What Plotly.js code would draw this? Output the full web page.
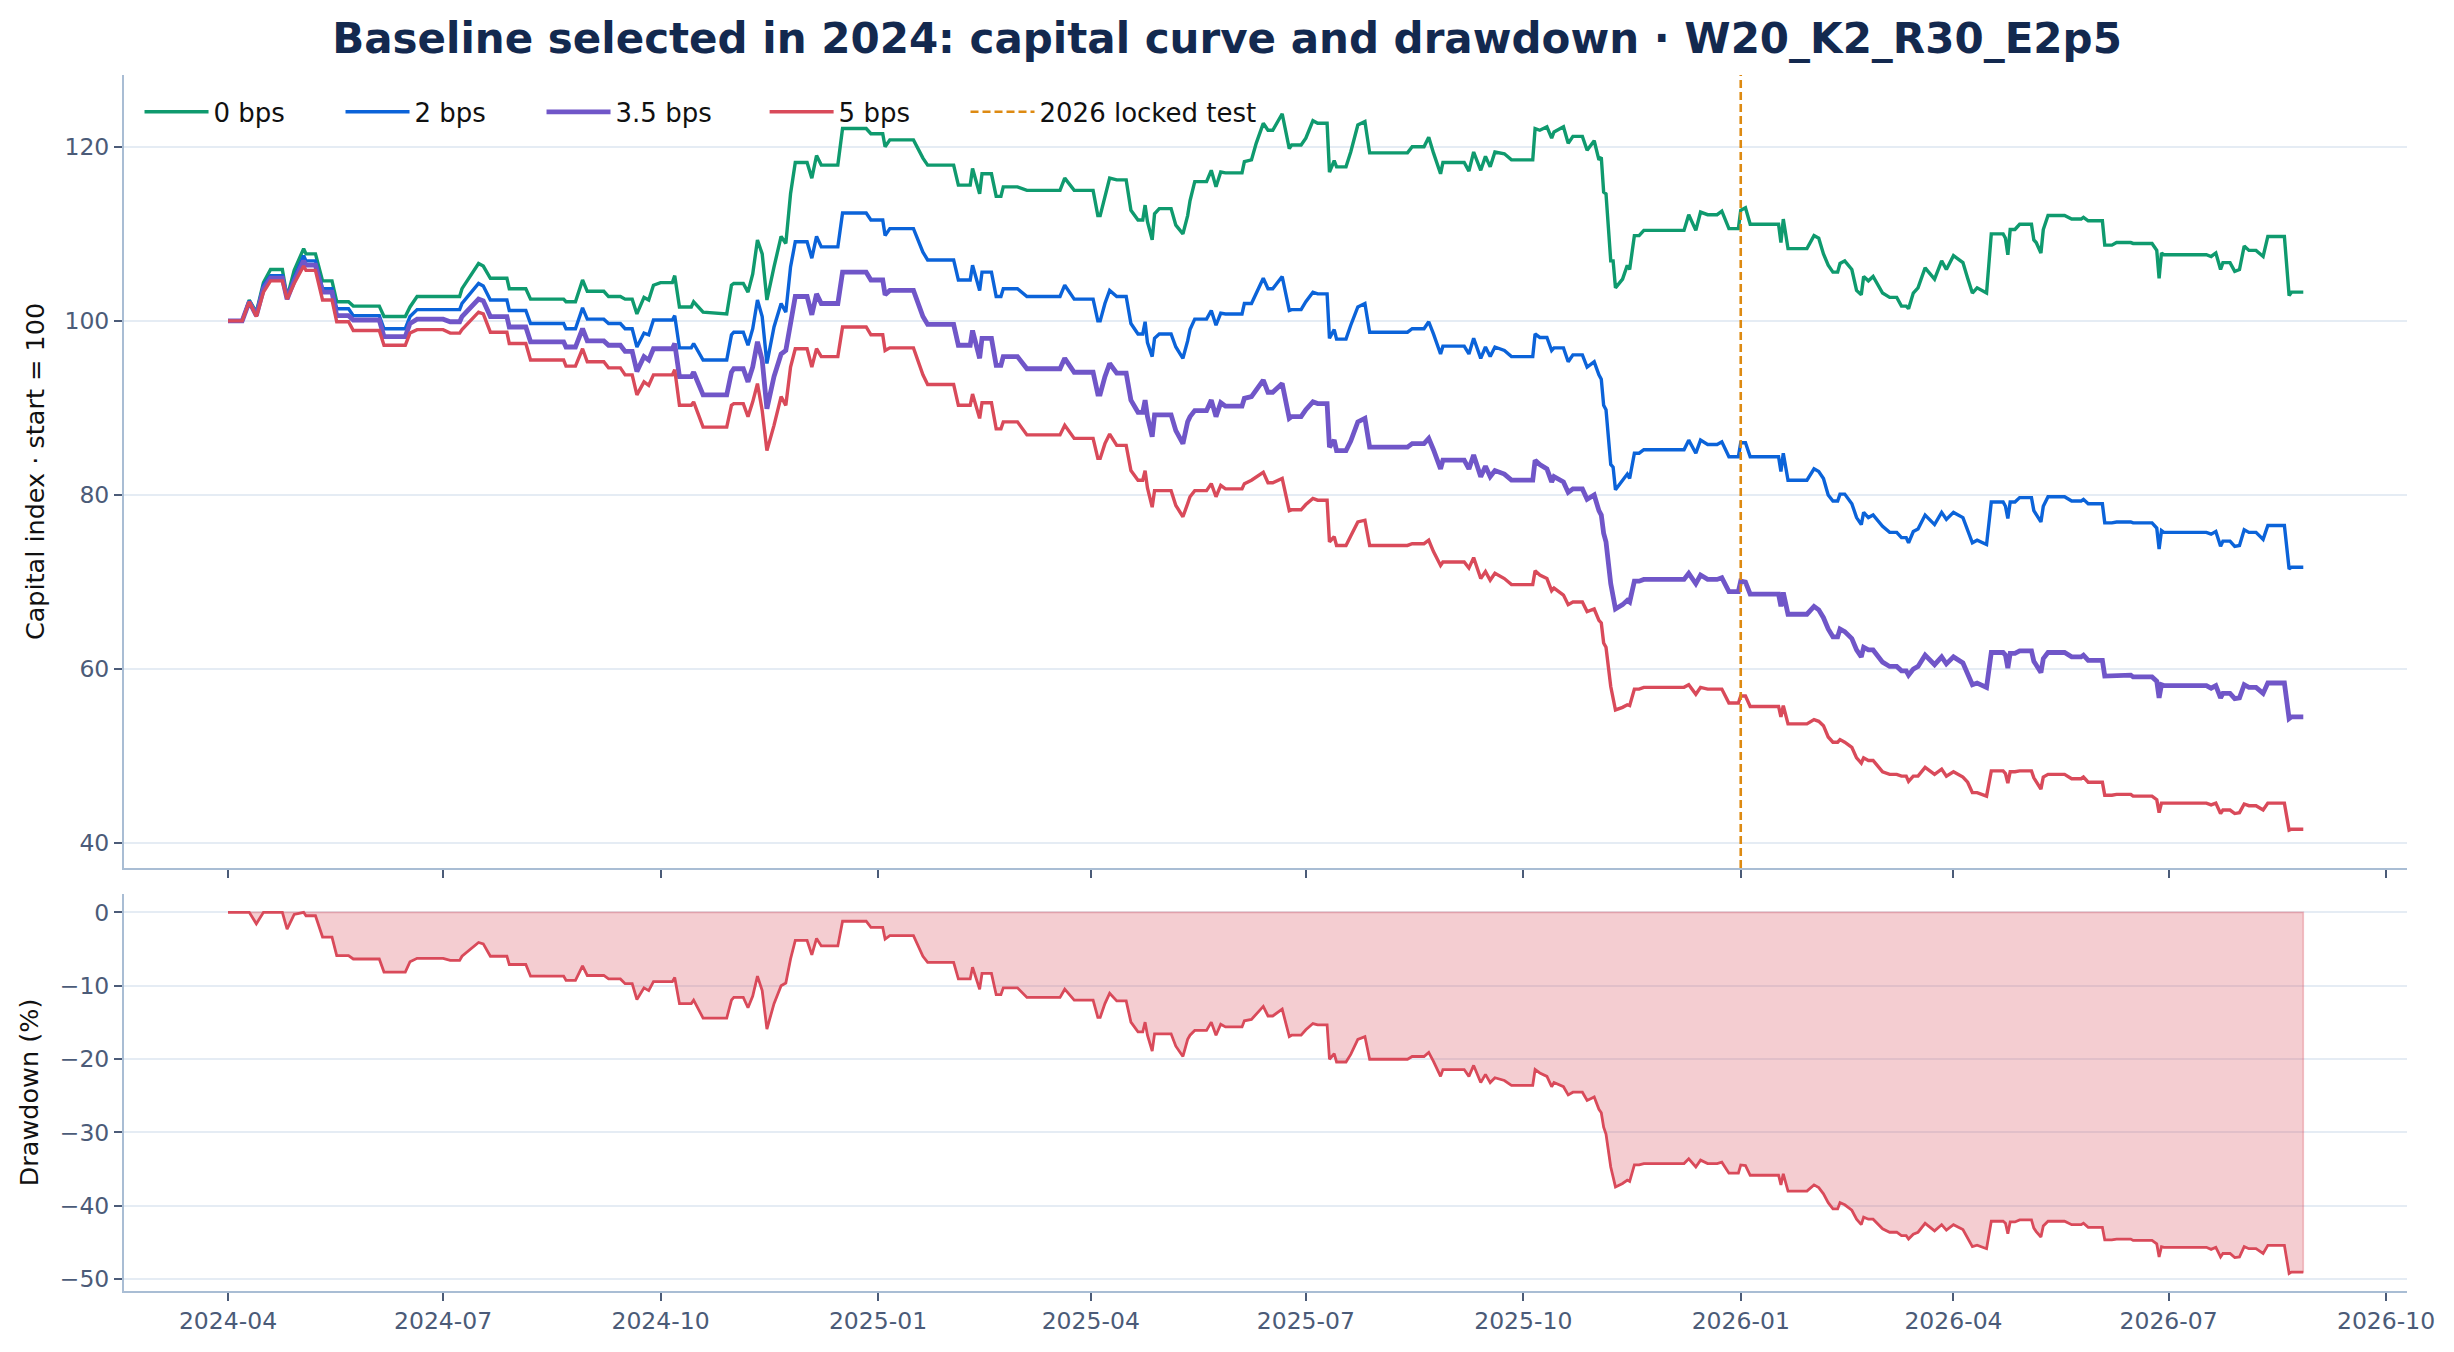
<!DOCTYPE html>
<html>
<head>
<meta charset="utf-8">
<script src="https://cdn.plot.ly/plotly-3.0.1.min.js"></script>
<style>
  html, body { margin: 0; padding: 0; background: #ffffff; }
  #chart { width: 2454px; height: 1352px; }
</style>
</head>
<body>
<div id="chart"></div>
<script>
// capital index per cost level (start = 100)
var dates = [
  "2024-04-01","2024-04-07","2024-04-10","2024-04-13","2024-04-16","2024-04-19","2024-04-24","2024-04-26","2024-04-29","2024-05-03",
  "2024-05-04","2024-05-08","2024-05-11","2024-05-15","2024-05-17","2024-05-22","2024-05-24","2024-06-04","2024-06-06","2024-06-15",
  "2024-06-17","2024-06-20","2024-07-01","2024-07-04","2024-07-08","2024-07-09","2024-07-16","2024-07-18","2024-07-21","2024-07-28",
  "2024-07-29","2024-08-05","2024-08-07","2024-08-21","2024-08-22","2024-08-26","2024-08-29","2024-08-31","2024-09-07","2024-09-09",
  "2024-09-14","2024-09-16","2024-09-19","2024-09-21","2024-09-24","2024-09-26","2024-09-28","2024-10-01","2024-10-06","2024-10-07",
  "2024-10-09","2024-10-14","2024-10-15","2024-10-19","2024-10-29","2024-10-31","2024-11-01","2024-11-05","2024-11-07","2024-11-09",
  "2024-11-11","2024-11-13","2024-11-15","2024-11-18","2024-11-21","2024-11-23","2024-11-25","2024-11-27","2024-12-02","2024-12-04",
  "2024-12-06","2024-12-08","2024-12-15","2024-12-17","2024-12-27","2024-12-29","2025-01-03","2025-01-04","2025-01-06","2025-01-16",
  "2025-01-20","2025-01-22","2025-02-02","2025-02-04","2025-02-09","2025-02-10","2025-02-13","2025-02-14","2025-02-18","2025-02-20",
  "2025-02-22","2025-02-23","2025-03-01","2025-03-05","2025-03-19","2025-03-21","2025-03-25","2025-04-02","2025-04-04","2025-04-05",
  "2025-04-07","2025-04-09","2025-04-12","2025-04-16","2025-04-18","2025-04-21","2025-04-23","2025-04-24","2025-04-25","2025-04-27",
  "2025-04-28","2025-04-30","2025-05-05","2025-05-07","2025-05-10","2025-05-12","2025-05-13","2025-05-15","2025-05-20","2025-05-22",
  "2025-05-24","2025-05-26","2025-05-28","2025-06-04","2025-06-05","2025-06-08","2025-06-10","2025-06-13","2025-06-15","2025-06-17",
  "2025-06-21","2025-06-24","2025-06-25","2025-06-29","2025-07-01","2025-07-04","2025-07-06","2025-07-10","2025-07-11","2025-07-13",
  "2025-07-14","2025-07-18","2025-07-20","2025-07-23","2025-07-26","2025-07-28","2025-08-13","2025-08-15","2025-08-20","2025-08-22",
  "2025-08-24","2025-08-27","2025-08-28","2025-09-06","2025-09-08","2025-09-10","2025-09-13","2025-09-15","2025-09-17","2025-09-19",
  "2025-09-23","2025-09-26","2025-10-05","2025-10-06","2025-10-08","2025-10-11","2025-10-13","2025-10-14","2025-10-18","2025-10-20",
  "2025-10-22","2025-10-26","2025-10-28","2025-10-31","2025-11-02","2025-11-03","2025-11-04","2025-11-05","2025-11-07","2025-11-08",
  "2025-11-09","2025-11-12","2025-11-14","2025-11-15","2025-11-17","2025-11-19","2025-11-21","2025-12-08","2025-12-10","2025-12-13",
  "2025-12-15","2025-12-18","2025-12-22","2025-12-24","2025-12-27","2025-12-31","2026-01-01","2026-01-03","2026-01-05","2026-01-17",
  "2026-01-18","2026-01-19","2026-01-21","2026-01-29","2026-02-01","2026-02-03","2026-02-05","2026-02-07","2026-02-09","2026-02-11",
  "2026-02-12","2026-02-14","2026-02-17","2026-02-19","2026-02-21","2026-02-22","2026-02-24","2026-02-26","2026-03-02","2026-03-05",
  "2026-03-08","2026-03-10","2026-03-12","2026-03-13","2026-03-15","2026-03-17","2026-03-20","2026-03-24","2026-03-27","2026-03-29",
  "2026-04-01","2026-04-05","2026-04-07","2026-04-09","2026-04-11","2026-04-15","2026-04-17","2026-04-22","2026-04-23","2026-04-24",
  "2026-04-25","2026-04-27","2026-04-29","2026-05-04","2026-05-05","2026-05-06","2026-05-08","2026-05-09","2026-05-11","2026-05-18",
  "2026-05-21","2026-05-25","2026-05-26","2026-05-28","2026-06-03","2026-06-04","2026-06-07","2026-06-09","2026-06-15","2026-06-16",
  "2026-06-24","2026-06-26","2026-06-27","2026-06-28","2026-06-29","2026-07-17","2026-07-19","2026-07-21","2026-07-23","2026-07-24",
  "2026-07-27","2026-07-29","2026-07-31","2026-08-02","2026-08-04","2026-08-07","2026-08-10","2026-08-12","2026-08-19","2026-08-21",
  "2026-08-22","2026-08-27"
];

var bps0 = [
  100,100,102.4,101.0,104.4,105.9,105.9,102.7,105.8,108.3,
  107.7,107.7,104.6,104.6,102.2,102.2,101.7,101.7,100.5,100.5,
  101.6,102.8,102.8,102.8,102.8,103.7,106.6,106.3,104.9,104.9,
  103.7,103.7,102.5,102.5,102.2,102.2,104.7,103.4,103.4,102.8,
  102.8,102.5,102.5,100.8,102.7,102.4,104.1,104.4,104.4,105.2,
  101.6,101.6,102.2,101.0,100.8,104.1,104.3,104.3,103.3,105.4,
  109.3,107.7,102.4,106.2,109.7,108.9,114.6,118.2,118.2,116.4,
  119.0,117.9,117.9,122.1,122.1,121.5,121.5,120.0,120.8,120.8,
  118.7,117.9,117.9,115.6,115.6,117.5,114.6,116.9,116.9,114.3,
  114.3,115.4,115.4,115.0,115.0,116.4,115.0,115.0,112.1,112.1,
  114.3,116.4,116.2,116.2,112.7,111.6,111.6,113.3,111.4,109.3,
  112.3,112.9,112.9,111.0,110.0,112.1,113.8,116.0,116.0,117.3,
  115.4,117.1,117.0,117.0,118.3,118.5,120.4,122.7,121.9,121.9,
  123.8,119.8,120.2,120.2,121.0,123.0,122.7,122.7,117.1,118.4,
  117.7,117.7,119.4,122.5,122.9,119.3,119.3,120.0,120.0,121.1,
  119.3,116.9,118.2,118.2,117.2,119.4,117.3,118.9,117.7,119.4,
  119.2,118.5,118.5,122.1,121.9,122.3,121.0,121.7,122.3,120.4,
  121.2,121.2,119.6,120.7,118.5,118.8,114.8,114.6,106.9,106.9,
  103.8,104.8,106.4,105.9,109.8,109.8,110.4,110.4,112.2,110.4,
  112.5,112.2,112.2,112.6,110.6,110.6,112.7,113.0,111.1,111.1,
  109.0,111.7,108.3,108.3,109.8,109.5,107.7,106.4,105.6,105.6,
  106.6,106.9,105.9,103.5,103.0,105.1,104.6,105.1,103.2,102.7,
  102.7,101.7,101.7,101.4,103.2,103.8,106.1,104.8,106.9,105.9,
  107.5,106.7,104.9,103.2,103.8,103.2,110.0,110.0,109.5,107.6,
  110.5,110.5,111.1,111.1,109.3,109.0,107.8,110.5,112.1,112.1,
  111.7,111.7,111.9,111.5,111.5,108.7,108.7,109.0,109.0,108.9,
  108.9,108.1,104.9,107.8,107.6,107.6,107.4,107.8,105.9,106.7,
  106.7,105.7,105.9,108.6,108.1,108.1,107.4,109.7,109.7,102.9,
  103.3,103.3
];

var bps2 = [
  100,100,102.3,100.8,104.1,105.2,105.2,102.6,105.0,107.5,
  106.9,106.9,103.7,103.7,101.4,101.4,100.6,100.6,99.1,99.1,
  100.5,101.3,101.3,101.3,101.3,102.0,104.3,104.0,102.4,102.4,
  101.2,101.2,99.7,99.7,99.1,99.1,101.5,100.2,100.2,99.7,
  99.7,99.1,99.1,97.0,98.6,98.4,100.1,100.1,100.1,100.6,
  96.9,96.9,97.4,95.5,95.5,98.4,98.7,98.7,97.2,99.1,
  102.4,100.5,95.1,99.3,102.0,101.0,106.2,109.1,109.1,107.2,
  109.7,108.5,108.5,112.4,112.4,111.6,111.6,109.8,110.6,110.6,
  107.9,107.0,107.0,104.7,104.7,106.4,103.5,105.6,105.6,102.8,
  102.8,103.7,103.7,102.8,102.8,104.1,102.5,102.5,100.0,100.0,
  102.0,103.5,102.8,102.8,99.7,98.5,98.5,99.9,97.5,95.9,
  98.0,98.5,98.5,97.0,95.7,97.7,99.0,100.2,100.2,101.2,
  99.5,100.9,100.8,100.8,102.0,102.0,103.1,104.9,103.7,103.7,
  105.1,101.2,101.3,101.3,102.2,103.3,103.1,103.1,98.0,99.0,
  97.9,97.9,99.5,101.6,102.0,98.7,98.7,99.1,99.1,99.9,
  98.5,96.2,97.1,97.1,96.2,98.0,95.7,97.0,95.9,97.0,
  96.6,95.9,95.9,98.5,98.1,98.1,96.6,96.9,96.9,95.3,
  96.1,96.1,94.7,95.3,93.8,93.3,90.3,89.8,83.5,83.2,
  80.6,81.7,82.4,81.9,84.8,84.8,85.2,85.2,86.3,84.8,
  86.3,85.8,85.8,86.1,84.4,84.4,86.0,86.0,84.4,84.4,
  82.7,84.8,81.7,81.7,83.0,82.7,81.9,80.0,79.3,79.3,
  80.1,80.1,79.0,77.4,76.6,78.0,77.4,77.7,76.4,75.7,
  75.7,75.1,75.1,74.5,75.8,76.1,77.7,76.6,78.0,77.2,
  78.0,77.4,75.9,74.5,74.8,74.3,79.2,79.2,78.7,77.3,
  79.2,79.2,79.7,79.7,78.2,77.8,76.9,78.7,79.8,79.8,
  79.3,79.3,79.5,79.0,79.0,76.8,76.8,76.9,76.9,76.8,
  76.8,76.2,73.8,75.9,75.7,75.7,75.5,75.8,74.1,74.7,
  74.7,74.1,74.2,76.0,75.7,75.7,74.9,76.5,76.5,71.5,
  71.7,71.7
];

var bps35 = [
  100,100,102.2,100.6,103.7,104.9,104.9,102.5,104.6,106.9,
  106.4,106.4,103.3,103.3,100.6,100.6,100.1,100.1,98.2,98.2,
  99.7,100.2,100.2,99.9,99.9,100.5,102.5,102.3,100.5,100.5,
  99.3,99.3,97.6,97.6,97.0,97.0,99.1,97.7,97.7,97.2,
  97.2,96.5,96.5,94.2,95.9,95.5,96.8,96.8,96.8,97.4,
  93.6,93.6,94.1,91.5,91.5,94.1,94.5,94.5,93.0,94.7,
  97.6,95.5,89.9,93.6,96.2,96.6,100.1,102.8,102.8,100.7,
  103.1,102.0,102.0,105.6,105.6,104.7,104.7,103.0,103.5,103.5,
  100.5,99.6,99.6,97.2,97.2,98.9,95.7,98.0,98.0,94.9,
  94.9,95.9,95.9,94.5,94.5,95.7,94.1,94.1,91.6,91.6,
  93.6,95.1,94.0,94.0,90.9,89.5,89.5,90.9,89.0,86.7,
  89.2,89.2,89.2,87.4,85.9,88.4,89.0,89.7,89.7,90.9,
  89.0,90.6,90.2,90.2,91.1,91.3,92.0,93.2,91.8,91.8,
  92.8,88.8,89.0,89.0,89.8,90.7,90.5,90.5,85.5,86.3,
  85.1,85.1,86.2,88.4,88.8,85.5,85.5,85.9,85.9,86.5,
  85.2,83.0,84.0,84.0,83.0,84.6,82.1,83.3,82.1,82.8,
  82.4,81.7,81.7,84.0,83.5,83.0,81.5,82.1,81.5,80.3,
  80.7,80.7,79.5,80.0,78.2,77.7,75.6,74.6,69.8,68.2,
  66.9,67.4,67.9,67.7,70.1,70.1,70.3,70.3,71.0,69.8,
  70.8,70.3,70.3,70.5,68.9,68.9,70.1,70.0,68.6,68.6,
  67.2,68.8,66.3,66.3,67.2,66.8,65.9,64.6,63.7,63.7,
  64.6,64.3,63.5,62.2,61.4,62.5,62.2,62.2,60.8,60.3,
  60.3,59.8,59.8,59.3,60.0,60.3,61.6,60.5,61.4,60.6,
  61.4,60.7,59.5,58.2,58.4,57.9,61.9,61.9,61.6,60.1,
  61.8,61.8,62.1,62.1,60.9,60.4,59.6,61.2,61.9,61.9,
  61.4,61.4,61.6,61.0,61.0,59.2,59.2,59.3,59.3,59.1,
  59.1,58.6,56.7,58.2,58.1,58.1,57.8,58.1,56.7,57.2,
  57.2,56.6,56.7,58.2,57.9,57.9,57.2,58.4,58.4,54.3,
  54.5,54.5
];

var bps5 = [
  100,100,102.2,100.5,103.3,104.6,104.6,102.5,104.3,106.3,
  105.8,105.8,102.4,102.4,99.9,99.9,98.9,98.9,97.2,97.2,
  98.6,99.0,99.0,98.6,98.6,99.0,101.0,100.8,98.7,98.7,
  97.4,97.4,95.5,95.5,94.8,94.8,96.8,95.3,95.3,94.6,
  94.6,93.8,93.8,91.5,93.0,92.6,93.8,93.8,93.8,94.4,
  90.3,90.3,90.7,87.8,87.8,90.3,90.5,90.5,89.0,90.7,
  92.8,89.7,85.1,88.0,91.3,90.3,94.7,96.8,96.8,94.7,
  96.8,95.9,95.9,99.3,99.3,98.4,98.4,96.6,96.9,96.9,
  93.8,92.7,92.7,90.3,90.3,91.6,88.8,90.6,90.6,87.6,
  87.6,88.4,88.4,86.9,86.9,88.0,86.5,86.5,84.2,84.2,
  85.9,87.0,85.7,85.7,82.8,81.7,81.7,82.8,80.8,78.6,
  80.5,80.5,80.5,78.8,77.5,79.0,79.8,80.5,80.5,81.3,
  79.8,81.1,80.7,80.7,81.3,81.7,82.1,82.6,81.4,81.4,
  81.9,78.2,78.3,78.3,78.9,79.6,79.4,79.4,74.6,75.2,
  74.2,74.2,75.3,76.9,77.1,74.2,74.2,74.4,74.4,74.8,
  73.5,71.9,72.3,72.3,71.6,72.8,70.4,71.2,70.2,71.0,
  70.4,69.7,69.7,71.3,70.8,70.4,69.0,69.3,68.5,67.4,
  67.7,67.7,66.6,66.9,65.6,65.3,63.0,62.5,58.0,56.4,
  55.3,55.6,55.9,55.8,57.7,57.7,57.9,57.9,58.2,57.1,
  57.9,57.7,57.7,57.7,56.1,56.1,56.9,56.9,55.7,55.7,
  54.5,55.8,53.7,53.7,54.2,54.0,53.5,52.2,51.6,51.6,
  51.9,51.6,51.0,49.8,49.2,49.8,49.5,49.5,48.2,47.9,
  47.9,47.7,47.7,47.1,47.7,47.7,48.7,47.9,48.5,47.7,
  48.2,47.6,47.0,45.8,45.8,45.4,48.3,48.3,48.0,46.9,
  48.2,48.2,48.3,48.3,47.5,47.0,46.2,47.6,47.9,47.9,
  47.4,47.4,47.6,47.0,47.0,45.5,45.5,45.6,45.6,45.4,
  45.4,45.0,43.5,44.6,44.6,44.6,44.4,44.6,43.4,43.8,
  43.8,43.4,43.5,44.5,44.3,44.3,43.8,44.6,44.6,41.5,
  41.6,41.6
];

var seriesNames = ['0 bps', '2 bps', '3.5 bps', '5 bps'];
var lockDate = '2026-01-01';
var lockName = '2026 locked test';

var colors = ['#0f9a6e', '#0b63d9', '#7056c8', '#d94a5a'];
var widths = [3.4, 3.4, 4.8, 3.4];
var legendOf = ['legend', 'legend', 'legend', 'legend2'];
var tickColor = '#4b5b78';
var spineColor = '#a9bdd4';
var gridColor = '#e5ecf4';
var FONT = 'DejaVu Sans';

// drawdown of the baseline (3.5 bps) curve from its running peak, in %
function drawdown(values){
	var out = [];
	var peak = -Infinity;
	for (var i = 0; i < values.length; i++){
		if (values[i] > peak) peak = values[i];
		out.push((values[i] / peak - 1) * 100);
	}
	return out;
}

function legendBox(x, extra){
	var box = {
		orientation: 'h', x: x, y: 0.989, xanchor: 'left', yanchor: 'top',
		bgcolor: 'rgba(0,0,0,0)', borderwidth: 0,
		font: {family: FONT, size: 26, color: '#111111'},
		itemwidth: 64, tracegroupgap: 0
	};
	return Object.assign(box, extra || {});
}

function disp_curves(chartname){
	var all = [bps0, bps2, bps35, bps5];
	for (var k = 0; k < all.length; k++){
		if (all[k].length != dates.length) throw new Error(seriesNames[k] + ' length ' + all[k].length + ' vs ' + dates.length);
	}
	var data = [];
	for (var k = 0; k < all.length; k++){
		data.push({
			x: dates, y: all[k], type: 'scatter', mode: 'lines', name: seriesNames[k],
			xaxis: 'x', yaxis: 'y', legend: legendOf[k],
			line: {color: colors[k], width: widths[k]}
		});
	}
	// legend entry for the vertical marker (the line itself is a shape)
	data.push({
		x: [lockDate], y: [null], type: 'scatter', mode: 'lines', name: lockName,
		xaxis: 'x', yaxis: 'y', legend: 'legend3',
		line: {color: '#dd8a12', width: 2.6, dash: '8px,4px'}
	});

	var dd = drawdown(bps35);
	var zeros = dd.map(function(){ return 0; });
	data.push({
		x: dates.concat(dates.slice().reverse()),
		y: dd.concat(zeros),
		type: 'scatter', mode: 'lines', fill: 'toself',
		fillcolor: 'rgba(217,74,90,0.28)',
		line: {color: 'rgba(217,74,90,0.32)', width: 1.6},
		xaxis: 'x2', yaxis: 'y2', showlegend: false, hoverinfo: 'skip'
	});
	data.push({
		x: dates, y: dd, type: 'scatter', mode: 'lines',
		line: {color: colors[3], width: 2.8},
		xaxis: 'x2', yaxis: 'y2', showlegend: false
	});

	var xbase = {
		type: 'date', range: ['2024-02-17', '2026-10-09 21:00'],
		dtick: 'M3', tick0: '2024-01-01', tickformat: '%Y-%m',
		ticks: 'outside', ticklen: 8, tickwidth: 2, tickcolor: tickColor,
		showline: true, linecolor: spineColor, linewidth: 2,
		showgrid: false, zeroline: false,
		tickfont: {family: FONT, size: 23.5, color: tickColor}
	};
	var ybase = {
		ticks: 'outside', ticklen: 8, tickwidth: 2, tickcolor: tickColor,
		showline: true, linecolor: spineColor, linewidth: 2,
		showgrid: true, gridcolor: gridColor, gridwidth: 2, zeroline: false,
		tickfont: {family: FONT, size: 23.5, color: tickColor}
	};

	var layout = {
		width: 2454, height: 1352,
		margin: {l: 124, r: 47, t: 75, b: 61},
		paper_bgcolor: '#ffffff', plot_bgcolor: '#ffffff',
		font: {family: FONT, color: '#111111'},
		showlegend: true,
		title: {
			text: 'Baseline selected in 2024: capital curve and drawdown · W20_K2_R30_E2p5',
			font: {family: FONT, size: 42, color: '#13294f', weight: 'bold'},
			x: 0.5, xref: 'container', xanchor: 'center',
			y: 1 - 38 / 1352, yref: 'container', yanchor: 'middle'
		},
		xaxis: Object.assign({}, xbase, {anchor: 'y', domain: [0, 1], showticklabels: false}),
		xaxis2: Object.assign({}, xbase, {anchor: 'y2', domain: [0, 1], matches: 'x'}),
		yaxis: Object.assign({}, ybase, {
			anchor: 'x', domain: [0.3479, 1], range: [37.15, 128.25], dtick: 20, tick0: 0,
			title: {text: 'Capital index · start = 100', font: {family: FONT, size: 25.5, color: '#111111'}, standoff: 13}
		}),
		yaxis2: Object.assign({}, ybase, {
			anchor: 'x2', domain: [0, 0.3265], range: [-51.6, 2.5], dtick: 10, tick0: 0,
			title: {text: 'Drawdown (%)', font: {family: FONT, size: 25.5, color: '#111111'}, standoff: 14}
		}),
		legend: legendBox(0.0068, {entrywidth: 122, entrywidthmode: 'pixels'}),
		legend2: legendBox(0.2806),
		legend3: legendBox(0.3686),
		shapes: [{
			type: 'line', xref: 'x', yref: 'y domain',
			x0: lockDate, x1: lockDate, y0: 0, y1: 1,
			line: {color: '#dd8a12', width: 2.6, dash: '8px,4px'}
		}]
	};

	Plotly.newPlot(document.getElementById(chartname), data, layout, {displayModeBar: false, staticPlot: true});
}

disp_curves('chart');
</script>
</body>
</html>
